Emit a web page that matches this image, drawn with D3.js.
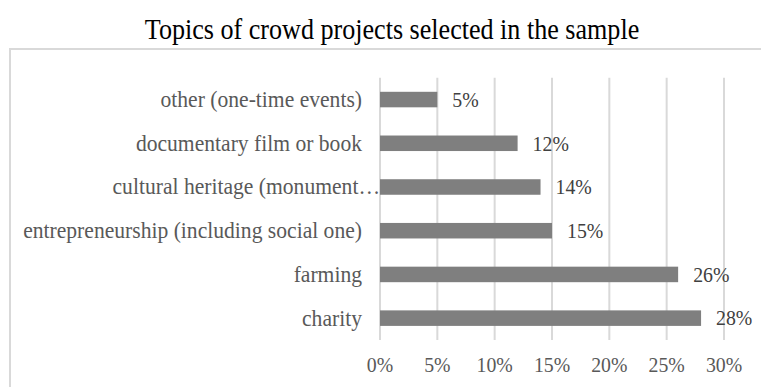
<!DOCTYPE html>
<html>
<head>
<meta charset="utf-8">
<script src="https://cdn.jsdelivr.net/npm/d3@7"></script>
<style>
  html, body { margin: 0; padding: 0; background: #fff; }
  svg { display: block; }
  text { font-family: "Liberation Serif", "Times New Roman", serif; }
</style>
</head>
<body>
<svg id="chart" width="761" height="387"></svg>
<script>
// Topics of crowd projects, top to bottom
const categories = [
  "other (one-time events)",
  "documentary film or book",
  "cultural heritage (monument\u2026",
  "entrepreneurship (including social one)",
  "farming",
  "charity"
];
const shares = [0.05, 0.12, 0.14, 0.15, 0.26, 0.28];
const tickValues = [0, 0.05, 0.10, 0.15, 0.20, 0.25, 0.30];
const title = "Topics of crowd projects selected in the sample";

const W = 761, H = 387;
const plot = { left: 380, right: 724, top: 77.7, bottom: 340 };
const squeeze = 0.9; // glyph width factor of the serif type

const svg = d3.select("#chart");

// outer frame of the chart area
svg.append("rect")
  .attr("x", 10).attr("y", 49)
  .attr("width", W + 20).attr("height", H)
  .attr("fill", "none")
  .attr("stroke", "#d9d9d9")
  .attr("stroke-width", 2);

const x = d3.scaleLinear().domain([0, 0.30]).range([plot.left, plot.right]);
const y = d3.scaleBand().domain(categories)
  .range([plot.top, plot.bottom])
  .paddingInner(0.645).paddingOuter(0.3225);

const pct = d3.format(".0%");

function label(sel, px, py, txt, opts) {
  const g = sel.append("g").attr("transform", `translate(${px},${py}) scale(${squeeze},1)`);
  g.append("text")
    .attr("text-anchor", opts.anchor)
    .attr("font-size", opts.size)
    .attr("fill", opts.fill)
    .text(txt);
  return g;
}

// title
label(svg, 392, 38.5, title, { anchor: "middle", size: 29, fill: "#000" });

// vertical gridlines
svg.append("g").selectAll("line").data(tickValues).join("line")
  .attr("x1", d => x(d)).attr("x2", d => x(d))
  .attr("y1", plot.top).attr("y2", plot.bottom)
  .attr("stroke", "#d9d9d9").attr("stroke-width", 2);

// bars
svg.append("g").selectAll("rect").data(shares).join("rect")
  .attr("x", x(0))
  .attr("y", (d, i) => y(categories[i]))
  .attr("width", d => x(d) - x(0))
  .attr("height", y.bandwidth())
  .attr("fill", "#7f7f7f");

// value labels
const valG = svg.append("g");
shares.forEach((d, i) => {
  label(valG, x(d) + 15, y(categories[i]) + y.bandwidth() / 2 + 7.3, pct(d),
    { anchor: "start", size: 22, fill: "#404040" });
});

// category labels
const catG = svg.append("g");
categories.forEach(c => {
  const truncated = c.endsWith("\u2026");
  label(catG, truncated ? plot.left : plot.left - 18, y(c) + y.bandwidth() / 2 + 7.5, c,
    { anchor: "end", size: 24, fill: "#595959" });
});

// x tick labels
const tickG = svg.append("g");
tickValues.forEach(t => {
  label(tickG, x(t), 371.5, pct(t), { anchor: "middle", size: 22, fill: "#595959" });
});
</script>
</body>
</html>
